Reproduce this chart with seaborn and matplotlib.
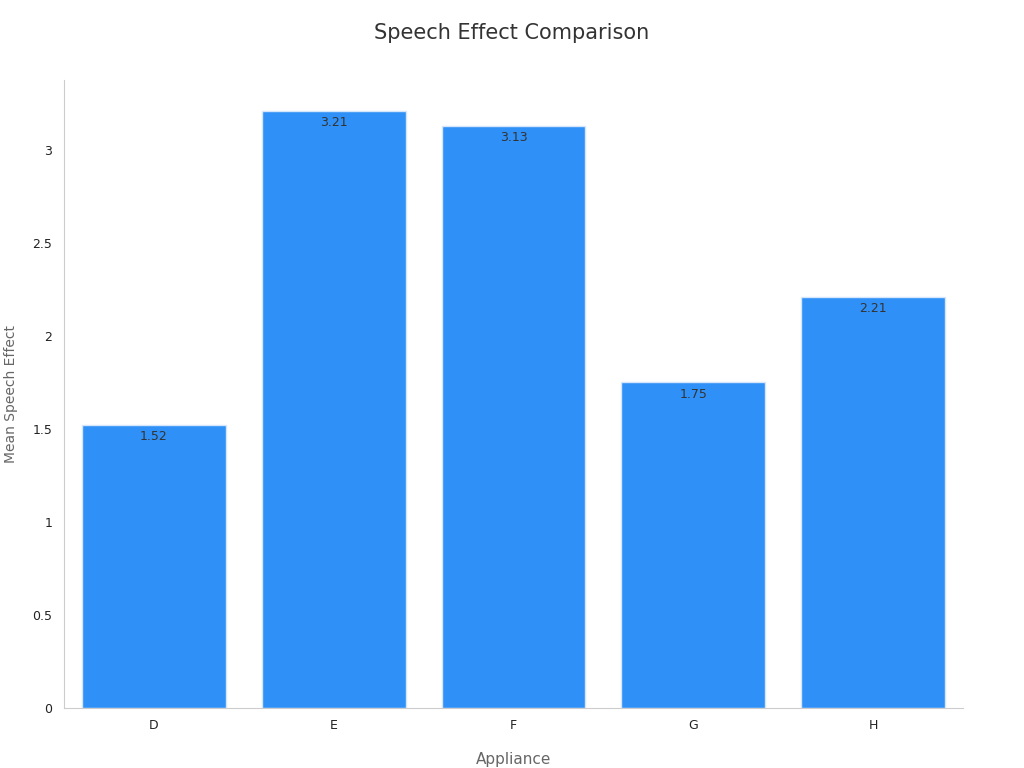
import matplotlib
matplotlib.use("Agg")
import matplotlib.pyplot as plt
import seaborn as sns
import pandas as pd

appliances = ["D", "E", "F", "G", "H"]
speech_effect = [1.52, 3.21, 3.13, 1.75, 2.21]

sns.set_style("white")
plt.rcParams["font.family"] = ["DejaVu Sans"]

df = pd.DataFrame({"Appliance": appliances, "Mean Speech Effect": speech_effect})

fig = plt.figure(figsize=(10.24, 7.68), dpi=100)
ax = fig.add_axes([0.0625, 0.078, 0.878, 0.818])
sns.barplot(data=df, x="Appliance", y="Mean Speech Effect", color="#2F91F8",
            saturation=1, width=0.8, edgecolor="#D6E6FA", linewidth=1, ax=ax)

for c in ax.containers:
    ax.bar_label(c, labels=[f"{v:.2f}" for v in speech_effect], padding=-13,
                 fontsize=9, color="#333333")

ax.set_xlim(-0.5, 4.5)
ax.set_ylim(0, 3.376)
ax.set_yticks([0, 0.5, 1, 1.5, 2, 2.5, 3])
ax.set_yticklabels(["0", "0.5", "1", "1.5", "2", "2.5", "3"])
ax.tick_params(axis="both", labelsize=9, colors="#222222", length=4, color="#CCCCCC")
ax.tick_params(axis="x", length=0, pad=8)
ax.tick_params(axis="y", length=5, width=1)
for s in ["top", "right"]:
    ax.spines[s].set_visible(False)
for s in ["left", "bottom"]:
    ax.spines[s].set_color("#CCCCCC")
ax.set_xlabel("Appliance", fontsize=11, color="#666666", labelpad=14)
ax.set_ylabel("Mean Speech Effect", fontsize=10, color="#666666", labelpad=10)
fig.suptitle("Speech Effect Comparison", fontsize=15, color="#333333", y=0.97)

fig.savefig("out.png", dpi=100)
